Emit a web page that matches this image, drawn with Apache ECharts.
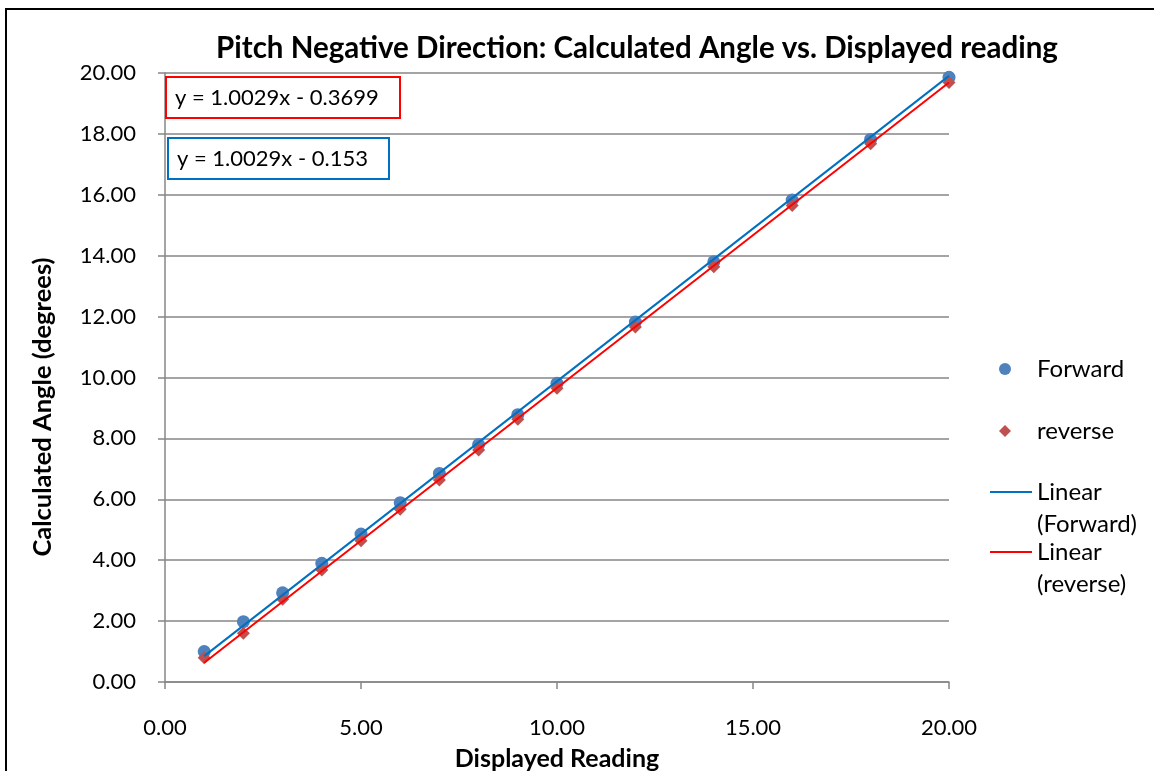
<!DOCTYPE html>
<html>
<head>
<meta charset="utf-8">
<script src="https://cdn.jsdelivr.net/npm/echarts@6/dist/echarts.min.js"></script>
<style>
html,body{margin:0;padding:0;background:#fff;}
#chart{width:1154px;height:771px;}
</style>
</head>
<body>
<div id="chart"></div>
<script>
// ---- data ----
var displayed = [1, 2, 3, 4, 5, 6, 7, 8, 9, 10, 12, 14, 16, 18, 20];
var forward = [1.00, 1.98, 2.93, 3.90, 4.86, 5.89, 6.85, 7.80, 8.78, 9.81, 11.82, 13.80, 15.83, 17.82, 19.86];
var reverse = [0.80, 1.60, 2.72, 3.68, 4.64, 5.67, 6.63, 7.62, 8.63, 9.65, 11.66, 13.64, 15.65, 17.68, 19.69];
var forwardFit = { slope: 1.0029, intercept: -0.153 };
var reverseFit = { slope: 1.0029, intercept: -0.3699 };
var titleText = 'Pitch Negative Direction: Calculated Angle vs. Displayed reading';
var xName = 'Displayed Reading';
var yName = 'Calculated Angle (degrees)';
var seriesNames = ['Forward', 'reverse', 'Linear (Forward)', 'Linear (reverse)'];

function pairs(xs, ys) { return xs.map(function (x, i) { return [x, ys[i]]; }); }
function fitLine(fit) {
  var x0 = displayed[0], x1 = displayed[displayed.length - 1];
  return [[x0, fit.slope * x0 + fit.intercept], [x1, fit.slope * x1 + fit.intercept]];
}
function eqText(fit) {
  var b = fit.intercept;
  return 'y = ' + fit.slope + 'x ' + (b < 0 ? '- ' : '+ ') + Math.abs(b);
}

var FONT = 'Lato';
var chart = echarts.init(document.getElementById('chart'), null, { renderer: 'canvas' });
var axisGray = '#868686';

function lineLegend(name, top) {
  return {
    data: [{ name: name, icon: 'rect' }],
    orient: 'vertical', left: 990, top: top, padding: 0,
    itemWidth: 42, itemHeight: 2,
    formatter: function (n) { return '\n' + n.replace(' ', '\n'); },
    textStyle: { fontFamily: FONT, fontSize: 24, color: '#000', lineHeight: 32 }
  };
}

var option = {
  backgroundColor: '#fff',
  animation: false,
  textStyle: { fontFamily: FONT },
  title: {
    text: titleText,
    left: 637, top: 28,
    textAlign: 'center',
    textStyle: { fontFamily: FONT, fontWeight: 'bold', fontSize: 29.5, color: '#000' }
  },
  grid: { left: 165, right: 205, top: 73, bottom: 89, containLabel: false, outerBoundsMode: 'none' },
  xAxis: {
    type: 'value', min: 0, max: 20, interval: 5,
    name: xName, nameLocation: 'middle', nameGap: 64,
    nameTextStyle: { fontFamily: FONT, fontWeight: 'bold', fontSize: 25, color: '#000' },
    axisLine: { show: true, onZero: false, lineStyle: { color: axisGray, width: 1.5 } },
    axisTick: { show: true, inside: false, length: 7, lineStyle: { color: axisGray, width: 1.5 } },
    axisLabel: { margin: 35, fontFamily: FONT, fontSize: 22, color: '#000', formatter: function (v) { return v.toFixed(2); } },
    splitLine: { show: false }
  },
  yAxis: {
    type: 'value', min: 0, max: 20, interval: 2,
    axisLine: { show: true, onZero: false, lineStyle: { color: axisGray, width: 1.5 } },
    axisTick: { show: true, inside: false, length: 7, lineStyle: { color: axisGray, width: 1.5 } },
    axisLabel: { margin: 29, fontFamily: FONT, fontSize: 22, color: '#000', formatter: function (v) { return v.toFixed(2); } },
    splitLine: { show: true, lineStyle: { color: axisGray, width: 1.5 } }
  },
  legend: [
    {
      data: [seriesNames[0], seriesNames[1]],
      orient: 'vertical', left: 999, top: 356, padding: 0,
      itemWidth: 12, itemHeight: 12, itemGap: 36,
      textStyle: { fontFamily: FONT, fontSize: 24, color: '#000', lineHeight: 26, padding: [0, 0, 0, 21] }
    },
    lineLegend(seriesNames[2], 444),
    lineLegend(seriesNames[3], 504)
  ],
  series: [
    {
      name: seriesNames[0], type: 'scatter', data: pairs(displayed, forward),
      symbol: 'circle', symbolSize: 13, z: 2,
      itemStyle: { color: '#4F81BD', opacity: 1 }
    },
    {
      name: seriesNames[1], type: 'scatter', data: pairs(displayed, reverse),
      symbol: 'diamond', symbolSize: 13, z: 2,
      itemStyle: { color: '#C0504D', opacity: 1 }
    },
    {
      name: seriesNames[2], type: 'line', data: fitLine(forwardFit),
      symbol: 'none', z: 3, lineStyle: { color: '#0070C0', width: 2 }, itemStyle: { color: '#0070C0' }
    },
    {
      name: seriesNames[3], type: 'line', data: fitLine(reverseFit),
      symbol: 'none', z: 3, lineStyle: { color: '#FF0000', width: 2 }, itemStyle: { color: '#FF0000' }
    }
  ],
  graphic: [
    {
      type: 'rect', z: 100, silent: true,
      shape: { x: 6, y: 9, width: 1200, height: 800 },
      style: { fill: 'none', stroke: '#000', lineWidth: 2 }
    },
    {
      type: 'text', z: 100, x: 43, y: 407, rotation: Math.PI / 2,
      style: { text: yName, fontFamily: FONT, fontWeight: 'bold', fontSize: 25.5, fill: '#000', textAlign: 'center', textVerticalAlign: 'middle' }
    },
    {
      type: 'rect', z: 100,
      shape: { x: 166, y: 77, width: 234, height: 41 },
      style: { fill: '#fff', stroke: '#FF0000', lineWidth: 2 }
    },
    {
      type: 'text', z: 101, x: 175, y: 97.5,
      style: { text: eqText(reverseFit), fontFamily: FONT, fontSize: 22, fill: '#000', textVerticalAlign: 'middle' }
    },
    {
      type: 'rect', z: 100,
      shape: { x: 168, y: 138, width: 221, height: 41 },
      style: { fill: '#fff', stroke: '#0070C0', lineWidth: 2 }
    },
    {
      type: 'text', z: 101, x: 177, y: 158.5,
      style: { text: eqText(forwardFit), fontFamily: FONT, fontSize: 22, fill: '#000', textVerticalAlign: 'middle' }
    }
  ]
};
option.title.left = 632;
chart.setOption(option);
</script>
</body>
</html>
